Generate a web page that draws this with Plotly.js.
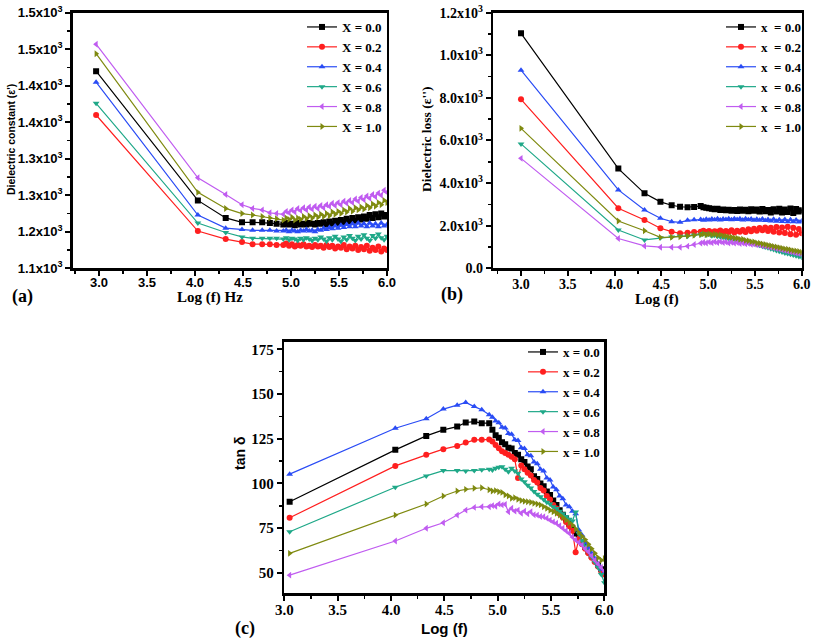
<!DOCTYPE html>
<html>
<head>
<meta charset="utf-8">
<script src="https://cdn.plot.ly/plotly-3.0.1.min.js"></script>
<style>html,body{margin:0;padding:0;background:#fff;}#chart{width:813px;height:640px;}</style>
</head>
<body>
<div id="chart"></div>
<script>
// ---------------- DATA ----------------
const seriesLabels = ["0.0", "0.2", "0.4", "0.6", "0.8", "1.0"];

const xDense = [4.92,4.95,4.98,5.01,5.04,5.07,5.10,5.13,5.16,5.19,5.22,5.25,5.28,5.31,5.34,5.37,5.40,5.43,5.46,5.49,5.52,5.55,5.58,5.61,5.64,5.67,5.70,5.73,5.76,5.79,5.82,5.85,5.88,5.91,5.94,5.97,6.00];
const xSparseA = [2.97,4.03,4.32,4.49,4.60,4.70,4.78,4.85];
const xSparseB = [3.00,4.04,4.32,4.49,4.61,4.70,4.78,4.85];
const xSparseC = [3.05,4.04,4.33,4.49,4.62,4.70,4.78,4.85];

// (a) Dielectric constant
const aX00 = [1370,1193,1169,1163,1163,1163,1162,1161, 1160,1162,1160,1161,1159,1162,1160,1161,1160,1162,1161,1160,1162,1161,1163,1160,1164,1161,1165,1162,1166,1163,1168,1164,1169,1165,1170,1167,1171,1168,1173,1169,1174,1170,1175,1171,1173];
const aX02 = [1310,1151,1140,1136,1133,1133,1133,1132, 1132,1134,1131,1133,1130,1132,1131,1133,1130,1131,1129,1132,1130,1131,1128,1132,1129,1131,1127,1130,1128,1132,1126,1130,1127,1131,1125,1129,1126,1131,1124,1128,1125,1130,1123,1127,1125];
const aX04 = [1355,1173,1155,1153,1152,1152,1152,1151, 1151,1152,1150,1152,1151,1150,1152,1151,1153,1151,1152,1150,1153,1152,1155,1153,1156,1154,1158,1155,1159,1156,1160,1157,1161,1157,1162,1158,1161,1157,1162,1158,1161,1157,1162,1158,1160];
const aX06 = [1326,1162,1149,1143,1141,1141,1141,1141, 1140,1142,1139,1141,1140,1138,1141,1139,1142,1140,1138,1141,1139,1143,1140,1137,1142,1139,1144,1140,1137,1143,1139,1145,1141,1138,1144,1140,1146,1141,1138,1145,1141,1147,1142,1139,1144];
const aX08 = [1407,1224,1201,1187,1182,1180,1176,1175, 1174,1178,1176,1180,1177,1182,1179,1183,1180,1184,1181,1185,1182,1186,1183,1187,1185,1189,1186,1190,1187,1192,1189,1193,1190,1195,1192,1197,1194,1199,1196,1201,1198,1203,1200,1207,1204];
const aX10 = [1394,1204,1182,1175,1173,1171,1169,1168, 1166,1169,1167,1170,1166,1169,1167,1171,1168,1172,1169,1173,1170,1174,1171,1175,1172,1177,1174,1178,1175,1180,1177,1182,1178,1183,1180,1184,1181,1186,1183,1188,1185,1190,1187,1193,1190];
const aYTickVals = [1100,1150,1200,1250,1300,1350,1400,1450];
const aYTickText = ["1.1x10<sup>3</sup>","1.2x10<sup>3</sup>","1.3x10<sup>3</sup>","1.3x10<sup>3</sup>","1.4x10<sup>3</sup>","1.4x10<sup>3</sup>","1.5x10<sup>3</sup>","1.5x10<sup>3</sup>"];

// (b) Dielectric loss
const bX00 = [1103,468,352,312,296,289,287,288, 292,287,284,282,280,277,279,274,276,272,275,270,274,269,276,270,275,268,277,270,276,266,278,268,274,262,277,266,280,262,276,264,281,260,278,266,272];
const bX02 = [793,282,227,188,172,164,167,170, 172,176,170,175,168,174,171,177,169,175,170,178,168,176,172,180,170,183,174,186,176,189,178,192,175,190,172,194,168,192,166,195,160,190,158,185,165];
const bX04 = [930,368,274,235,219,216,225,228, 229,226,230,227,231,228,232,227,231,229,233,228,232,229,233,227,232,228,231,226,230,225,231,224,229,222,230,221,228,220,229,219,228,218,227,217,222];
const bX06 = [584,180,133,143,147,150,150,155, 158,163,156,160,153,155,150,148,146,143,141,137,135,132,130,127,124,121,118,115,112,108,104,100,96,92,88,84,80,76,72,69,66,62,59,55,52];
const bX08 = [516,140,105,99,99,99,104,112, 118,121,119,123,120,124,121,125,121,123,119,122,118,121,116,119,115,117,113,114,110,110,106,105,101,99,96,93,90,87,84,81,78,75,72,69,66];
const bX10 = [657,222,176,145,146,148,152,155, 158,162,157,161,158,160,156,157,152,151,147,146,142,141,136,136,131,129,125,124,119,118,114,112,108,106,102,100,97,94,91,89,86,83,81,79,75];
const bYTickVals = [0,200,400,600,800,1000,1200];
const bYTickText = ["0.0","2.0x10<sup>3</sup>","4.0x10<sup>3</sup>","6.0x10<sup>3</sup>","8.0x10<sup>3</sup>","1.0x10<sup>3</sup>","1.2x10<sup>3</sup>"];

// (c) tan delta
const cX00 = [89.8,118.8,126.6,130,131.8,134.1,134.6,133.7, 133.7,130,127,125.5,123,122,120,119.5,117,116,113.5,112,109.5,108,104,102.5,100,98.5,95.5,93.5,90.5,88,85,82.5,80,77.5,75,72,70,67,64.5,62,59.5,57,54.5,52,50];
const cX02 = [80.8,109.8,116,119.2,121,122.9,124.4,124.4, 124.6,123.5,121.5,119.7,118,117,116,115,113.5,103,110,108,106,104.5,102,100.5,97.5,96,93,91,88,86,83,81,78.5,76,73.5,61.5,69,66,63.5,61,58.5,56,53.5,51,49];
const cX04 = [105.2,130.9,136.2,141.6,143.8,145.3,143,141.2, 138.5,137,135,134,131.5,131,128,127.5,124.5,124,120,119.5,116,115.5,112,111,108,107,103,102,98,96.5,93,91.5,88,87,84.5,83,74,71,67,64,61,58,55,52,50];
const cX06 = [73,97.9,104.2,107.2,107.2,107,107.2,107.6, 108,107.5,108.5,109,109.4,108,106.6,108.5,107,105.7,102.5,101,99,97.5,95.5,94,92.5,91,89.5,88.5,87,86,84.5,83,81.5,80,79,84,72,68,65,62,59,56,53,49,44.5];
const cX08 = [48.7,67.8,74.9,78,82.3,85.1,86.6,87, 87,87.6,87.2,88.5,88,88.3,84.2,86.1,84.5,85.1,83.3,84.5,83,84.2,82.5,82.3,81.5,81.4,80.5,79.5,78.5,77.7,76.3,74.9,73.5,72.1,70,68.3,67,65.5,63.5,61.8,59.5,57,55,53,51];
const cX10 = [60.9,82.3,88.5,93,95.8,96.7,97.3,97.6, 96.5,95.8,96,95.4,95,93.6,93,91.7,92,91.1,90.5,90,89.8,89.5,88.9,88.5,88,87,86.1,85,84.2,83.3,82.3,81,79.5,78,76.7,74.5,72.5,70.5,68.5,66,63.5,61,58.5,57,58];
const cYTickVals = [50,75,100,125,150,175];

// ---------------- STYLE ----------------
const colors = ["#000000", "#ff1f1f", "#2a4cf5", "#1fa888", "#c05cf0", "#7f8a10"];
const symbols = ["square", "circle", "triangle-up", "triangle-down", "triangle-left", "triangle-right"];
const SERIF = "Liberation Serif";
const SANS = "Liberation Sans";

const panels = [
  {xs: xSparseA, ys: [aX00,aX02,aX04,aX06,aX08,aX10], xa: "x", ya: "y", leg: "legend", prefix: "X = "},
  {xs: xSparseB, ys: [bX00,bX02,bX04,bX06,bX08,bX10], xa: "x2", ya: "y2", leg: "legend2", prefix: "x  = "},
  {xs: xSparseC, ys: [cX00,cX02,cX04,cX06,cX08,cX10], xa: "x3", ya: "y3", leg: "legend3", prefix: "x = "}
];

const traces = [];
panels.forEach(p => {
  const xv = p.xs.concat(xDense);
  p.ys.forEach((yv, i) => {
    traces.push({
      type: "scatter", mode: "lines+markers",
      x: xv, y: yv, xaxis: p.xa, yaxis: p.ya, legend: p.leg,
      name: p.prefix + seriesLabels[i],
      line: {color: colors[i], width: 1.2},
      marker: {color: colors[i], symbol: symbols[i], size: 6, line: {width: 0}}
    });
  });
});

function axisBase(extra) {
  return Object.assign({
    showline: true, linewidth: 2.5, linecolor: "#000", mirror: true,
    ticks: "outside", ticklen: 5, tickwidth: 2, tickcolor: "#000",
    showgrid: false, zeroline: false, fixedrange: true
  }, extra);
}

function xAxis(domain, range, anchor, font) {
  return axisBase({
    domain: domain, range: range, anchor: anchor,
    tickmode: "linear", tick0: 3, dtick: 0.5, tickformat: ".1f",
    tickfont: font, ticklabelstandoff: -4,
    minor: {ticks: "outside", ticklen: 3, tickwidth: 1.5, tickcolor: "#000", tickmode: "linear", tick0: 3, dtick: 0.25, showgrid: false}
  });
}

const fontA = {family: SANS, size: 13, color: "#000", weight: "bold"};
const fontB = {family: SERIF, size: 14, color: "#000", weight: "bold"};
const fontC = {family: SERIF, size: 15, color: "#000", weight: "bold"};
const legFont = {family: SERIF, size: 13, color: "#000", weight: "bold"};

function legendAt(xpx, ypx) {
  return {x: xpx/813, y: 1 - ypx/640, xanchor: "left", yanchor: "top", bgcolor: "rgba(0,0,0,0)", borderwidth: 0, font: legFont, itemwidth: 30, tracegroupgap: 0};
}

const layout = {
  width: 813, height: 640,
  margin: {l: 0, r: 0, t: 0, b: 0},
  paper_bgcolor: "#fff", plot_bgcolor: "#fff",
  showlegend: true,
  xaxis: xAxis([0.0894, 0.476], [2.726, 6.0], "y", fontA),
  yaxis: axisBase({domain: [0.5808, 0.98], range: [1100, 1450], anchor: "x",
    tickmode: "array", tickvals: aYTickVals, ticktext: aYTickText, tickfont: fontA,
    minor: {ticks: "outside", ticklen: 3, tickwidth: 1.5, tickcolor: "#000", tickmode: "linear", tick0: 1100, dtick: 25, showgrid: false}}),
  xaxis2: xAxis([0.6068, 0.9861], [2.704, 6.0], "y2", fontB),
  yaxis2: axisBase({domain: [0.5808, 0.9802], range: [0, 1200], anchor: "x2",
    tickmode: "array", tickvals: bYTickVals, ticktext: bYTickText, tickfont: fontB,
    minor: {ticks: "outside", ticklen: 3, tickwidth: 1.5, tickcolor: "#000", tickmode: "linear", tick0: 0, dtick: 100, showgrid: false}}),
  xaxis3: xAxis([0.3497, 0.7435], [3.0, 6.0], "y3", fontC),
  yaxis3: axisBase({domain: [0.0734, 0.4661], range: [38.7, 179.3], anchor: "x3",
    tickmode: "array", tickvals: cYTickVals, tickfont: fontC,
    minor: {ticks: "outside", ticklen: 3, tickwidth: 1.5, tickcolor: "#000", tickmode: "linear", tick0: 50, dtick: 12.5, showgrid: false}}),
  legend:  legendAt(302, 12),
  legend2: legendAt(721, 12),
  legend3: legendAt(523, 337),
  annotations: [
    {text: "Dielectric constant (ε')", x: 11/813, y: 1 - 140/640, xref: "paper", yref: "paper", textangle: -90, showarrow: false, xanchor: "center", yanchor: "middle",
     font: {family: SANS, size: 10.5, color: "#000", weight: "bold"}},
    {text: "Log (f) Hz", x: 210/813, y: 1 - 297/640, xref: "paper", yref: "paper", showarrow: false, xanchor: "center", yanchor: "middle",
     font: {family: SERIF, size: 15, color: "#000", weight: "bold"}},
    {text: "(a)", x: 22/813, y: 1 - 296/640, xref: "paper", yref: "paper", showarrow: false, xanchor: "center", yanchor: "middle",
     font: {family: SERIF, size: 18, color: "#000", weight: "bold"}},
    {text: "Dielectric loss (ε'')", x: 426/813, y: 1 - 140/640, xref: "paper", yref: "paper", textangle: -90, showarrow: false, xanchor: "center", yanchor: "middle",
     font: {family: SERIF, size: 13.5, color: "#000", weight: "bold"}},
    {text: "Log (f)", x: 657/813, y: 1 - 299/640, xref: "paper", yref: "paper", showarrow: false, xanchor: "center", yanchor: "middle",
     font: {family: SERIF, size: 15, color: "#000", weight: "bold"}},
    {text: "(b)", x: 452/813, y: 1 - 294/640, xref: "paper", yref: "paper", showarrow: false, xanchor: "center", yanchor: "middle",
     font: {family: SERIF, size: 18, color: "#000", weight: "bold"}},
    {text: "tan δ", x: 240/813, y: 1 - 454/640, xref: "paper", yref: "paper", textangle: -90, showarrow: false, xanchor: "center", yanchor: "middle",
     font: {family: SANS, size: 14, color: "#000", weight: "bold"}},
    {text: "Log (f)", x: 444/813, y: 1 - 628/640, xref: "paper", yref: "paper", showarrow: false, xanchor: "center", yanchor: "middle",
     font: {family: SANS, size: 15, color: "#000", weight: "bold"}},
    {text: "(c)", x: 245/813, y: 1 - 628/640, xref: "paper", yref: "paper", showarrow: false, xanchor: "center", yanchor: "middle",
     font: {family: SERIF, size: 18, color: "#000", weight: "bold"}}
  ]
};

Plotly.newPlot("chart", traces, layout, {staticPlot: true, displayModeBar: false});
</script>
</body>
</html>
